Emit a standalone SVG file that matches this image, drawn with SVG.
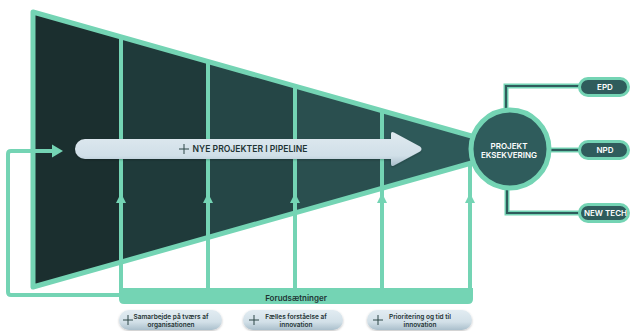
<svg xmlns="http://www.w3.org/2000/svg" width="631" height="331" viewBox="0 0 631 331">
<defs>
<style>
.g{stroke:#74d4b4;fill:none}
.lbl{font-family:Inter,"Liberation Sans",sans-serif;font-weight:600}
.wt{fill:#ffffff;font-size:8px;text-anchor:middle}
.dk{fill:#1f3434;text-anchor:middle}
.plus{stroke:#2c4646;stroke-width:1;fill:none}
.conO{stroke:#74d4b4;stroke-width:5;fill:none}
.conI{stroke:#2f5c5c;stroke-width:2.2;fill:none}
.pill{fill:#2f5c5c;stroke:#74d4b4;stroke-width:3}
.bp{fill:url(#pg);filter:url(#sh)}
.ah{fill:#74d4b4}
</style>
<linearGradient id="pg" x1="0" y1="0" x2="0" y2="1">
<stop offset="0" stop-color="#e2ecf2"/>
<stop offset="0.6" stop-color="#d2e0e8"/>
<stop offset="1" stop-color="#aabfcc"/>
</linearGradient>
<linearGradient id="ag" x1="0" y1="0" x2="0" y2="1">
<stop offset="0" stop-color="#e0eaf0"/>
<stop offset="0.7" stop-color="#d0dfe8"/>
<stop offset="1" stop-color="#a9bdca"/>
</linearGradient>
<filter id="sh" x="-10%" y="-30%" width="120%" height="170%">
<feDropShadow dx="0" dy="1" stdDeviation="0.8" flood-color="#000" flood-opacity="0.25"/>
</filter>
<clipPath id="fc"><polygon points="33,12 475,137 475,162 33,287"/></clipPath>
</defs>

<g id="funnel">
<g clip-path="url(#fc)">
<rect x="30" y="0" width="91" height="300" fill="#1b2f2f"/>
<rect x="121" y="0" width="87" height="300" fill="#1f3a3a"/>
<rect x="208" y="0" width="87" height="300" fill="#254646"/>
<rect x="295" y="0" width="87" height="300" fill="#2a4f4f"/>
<rect x="382" y="0" width="100" height="300" fill="#2e5959"/>
</g>
<polygon points="33,12 475,137 475,162 33,287" class="g" stroke-width="5" stroke-linejoin="round"/>
</g>

<g id="connectors">
<g class="g" stroke-width="4">
<line x1="121" y1="37" x2="121" y2="292"/>
<line x1="208" y1="62" x2="208" y2="292"/>
<line x1="295" y1="86" x2="295" y2="292"/>
<line x1="382" y1="111" x2="382" y2="292"/>
<line x1="470" y1="162" x2="470" y2="292"/>
<path d="M122,295 H11 Q8,295 8,292 V154 Q8,151 11,151 H55" stroke-linejoin="round"/>
</g>
<polygon class="ah" points="52,144.5 63,151 52,157.5"/>
<polygon class="ah" points="121,193 126,203 116,203"/>
<polygon class="ah" points="208,193 213,203 203,203"/>
<polygon class="ah" points="295,193 300,203 290,203"/>
<polygon class="ah" points="382,193 387,203 377,203"/>
<polygon class="ah" points="470,193 475,203 465,203"/>
<path class="conO" d="M506,110 V86 H580"/>
<path class="conI" d="M506,110 V86 H580"/>
<path class="conO" d="M550,150 H580"/>
<path class="conI" d="M550,150 H580"/>
<path class="conO" d="M507,188 V213 H580"/>
<path class="conI" d="M507,188 V213 H580"/>
</g>

<g id="projekt">
<circle cx="510" cy="149" r="39" fill="#2f5c5c" stroke="#74d4b4" stroke-width="5"/>
<text class="lbl wt" x="509" y="149">PROJEKT</text>
<text class="lbl wt" x="509" y="158">EKSEKVERING</text>
</g>

<g id="pipeline">
<path d="M85,139 H391 L391,134 Q391,131 394,132.5 L420,146.5 Q423,149 420,151.5 L394,165.5 Q391,167 391,164 L391,159 H85 A10,10 0 0 1 85,139 Z" fill="url(#ag)" filter="url(#sh)"/>
<path class="plus" d="M179,149 H189 M184,144 V154"/>
<text class="lbl dk" x="250" y="152.2" font-size="8.6px">NYE PROJEKTER I PIPELINE</text>
</g>

<g id="forudsaetninger">
<path d="M119,288 H473 V299 Q473,304 468,304 H124 Q119,304 119,299 Z" fill="#74d4b4"/>
<text class="lbl dk" x="296" y="300.8" font-size="8px" font-weight="500">Forudsætninger</text>
</g>

<g id="epd">
<rect class="pill" x="579.5" y="78.5" width="49" height="17" rx="8.5"/>
<text class="lbl wt" x="605" y="89.5" font-size="7.5px">EPD</text>
</g>
<g id="npd">
<rect class="pill" x="579.5" y="141.5" width="49" height="17" rx="8.5"/>
<text class="lbl wt" x="605" y="152.5" font-size="7.5px">NPD</text>
</g>
<g id="newtech">
<rect class="pill" x="579.5" y="204.5" width="49" height="17" rx="8.5"/>
<text class="lbl wt" x="605.5" y="215.5" font-size="7px">NEW TECH</text>
</g>

<g id="samarbejde">
<rect class="bp" x="119" y="310" width="103" height="20" rx="10"/>
<path class="plus" d="M123,320 H133 M128,315 V325"/>
<text class="lbl dk" x="171" y="318.8" font-size="6.5px">Samarbejde på tværs af</text>
<text class="lbl dk" x="171" y="326.6" font-size="6.5px">organisationen</text>
</g>
<g id="faelles">
<rect class="bp" x="243" y="310" width="100" height="20" rx="10"/>
<path class="plus" d="M249,320 H259 M254,315 V325"/>
<text class="lbl dk" x="296" y="318.8" font-size="6.5px">Fælles forståelse af</text>
<text class="lbl dk" x="296" y="326.6" font-size="6.5px">innovation</text>
</g>
<g id="prioritering">
<rect class="bp" x="367" y="310" width="105" height="20" rx="10"/>
<path class="plus" d="M373,320 H383 M378,315 V325"/>
<text class="lbl dk" x="420" y="318.8" font-size="6.5px">Prioritering og tid til</text>
<text class="lbl dk" x="420" y="326.6" font-size="6.5px">innovation</text>
</g>
</svg>
